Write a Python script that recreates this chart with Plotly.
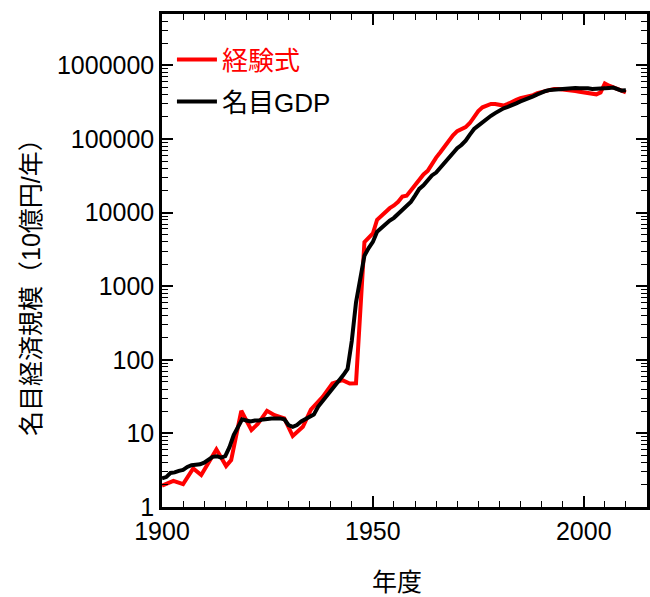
import plotly.graph_objects as go

# 経験式 (red) - year, value (10億円/年)
emp_years = [1900, 1902.7, 1905.0, 1907.4, 1909.3, 1911.3, 1912.9, 1915.2, 1916.4, 1918.8,
             1921.2, 1922.7, 1924.9, 1926.7, 1929.0, 1931.0, 1933.4, 1935.3, 1938.1, 1940.4,
             1942.8, 1944.5, 1946, 1948, 1949, 1950, 1951, 1952, 1953, 1954,
             1955, 1956, 1957, 1958, 1959, 1960, 1961, 1962, 1963, 1964,
             1965, 1966, 1967, 1968, 1969, 1970, 1971, 1972, 1973, 1974,
             1975, 1976, 1977, 1978, 1979, 1980, 1981, 1982, 1983, 1984,
             1985, 1986, 1987, 1988, 1989, 1990, 1991, 1992, 1993, 1994,
             1995, 1996, 1997, 1998, 1999, 2000, 2001, 2002, 2003, 2004,
             2005, 2006, 2007, 2008, 2009, 2010]
emp_values = [1.95, 2.27, 2.05, 3.35, 2.72, 4.4, 6.07, 3.6, 4.34, 20.3,
              11.1, 13.4, 20.3, 17.7, 16, 9.2, 12.3, 21, 31.4, 47.7,
              52.9, 47.7, 48, 3980, 4600, 5200, 8000, 9000, 10500, 11500,
              12500, 14000, 16500, 17000, 20000, 24000, 29000, 33000, 37000, 47000,
              56000, 66000, 80000, 95000, 112000, 128000, 137000, 145000, 165000, 205000,
              240000, 270000, 285000, 300000, 300000, 295000, 285000, 300000, 325000, 340000,
              360000, 370000, 375000, 395000, 420000, 435000, 455000, 470000, 480000, 480000,
              475000, 470000, 465000, 450000, 440000, 432000, 425000, 418000, 405000, 430000,
              570000, 530000, 505000, 470000, 450000, 430000]

# 名目GDP (black)
gdp_years = list(range(1900, 2011))
gdp_values = [2.45, 2.55, 2.9, 2.95, 3.1, 3.2, 3.5, 3.7, 3.75, 3.8,
              4.0, 4.4, 4.8, 4.9, 4.7, 4.9, 6.5, 9.5, 12.5, 15.5,
              15.0, 14.5, 15.0, 15.0, 15.5, 16, 16, 16, 16, 15.5,
              13, 12.3, 13, 14.5, 15.5, 16.5, 18, 23, 27, 32,
              38, 45, 52, 62, 75, 180, 600, 1300, 2600, 3300,
              4000, 5500, 6200, 7000, 7800, 8500, 9600, 11000, 12000, 14000,
              17000, 21000, 23500, 28000, 32000, 35000, 41000, 48000, 57000, 66000,
              75000, 83000, 95000, 115000, 137000, 152000, 170000, 188000, 207000, 225000,
              244000, 262000, 274000, 285000, 305000, 325000, 340000, 355000, 380000, 405000,
              430000, 450000, 465000, 470000, 475000, 485000, 495000, 505000, 495000, 490000,
              495000, 490000, 480000, 480000, 485000, 490000, 495000, 500000, 480000, 455000,
              460000]

series_names = ["経験式", "名目GDP"]
y_tickvals = [1, 10, 100, 1000, 10000, 100000, 1000000]
y_ticktext = ["1", "10", "100", "1000", "10000", "100000", "1000000"]
x_tickvals = [1900, 1950, 2000]

FONT = "Liberation Sans, Arial, Noto Sans CJK JP, sans-serif"

fig = go.Figure()
fig.add_trace(go.Scatter(
    x=emp_years, y=emp_values, mode="lines",
    name="<span style='color:#ff0000'>" + series_names[0] + "</span>",
    line=dict(color="#ff0000", width=4), legendgroup="a"))
fig.add_trace(go.Scatter(
    x=gdp_years, y=gdp_values, mode="lines",
    name=series_names[1],
    line=dict(color="#000000", width=4), legendgroup="b"))

fig.update_layout(
    width=650, height=597,
    margin=dict(l=162, r=0, t=14, b=90),
    paper_bgcolor="white", plot_bgcolor="white",
    font=dict(family=FONT, size=25, color="#000000"),
    showlegend=True,
    legend=dict(x=0.0205, y=0.955, xanchor="left", yanchor="top",
                bgcolor="rgba(0,0,0,0)", font=dict(size=26),
                itemwidth=40, tracegroupgap=5, traceorder="grouped"),
    xaxis=dict(range=[1900, 2015], showgrid=False, zeroline=False,
               showline=True, linecolor="black", linewidth=2.5, mirror="ticks",
               ticks="inside", ticklen=11, tickwidth=1.5, tickcolor="black",
               tickmode="array", tickvals=x_tickvals,
               minor=dict(ticks="inside", ticklen=6, tickwidth=1.2, tickcolor="black",
                          dtick=5, tick0=1900, showgrid=False)),
    yaxis=dict(type="log", range=[0, 6.699], showgrid=False, zeroline=False,
               showline=True, linecolor="black", linewidth=2.5, mirror="ticks",
               ticks="inside", ticklen=11, tickwidth=1.5, tickcolor="black",
               tickmode="array", tickvals=y_tickvals, ticktext=y_ticktext,
               minor=dict(ticks="inside", ticklen=6, tickwidth=1.2, tickcolor="black",
                          dtick="D1", showgrid=False)),
    annotations=[
        dict(text="名目経済規模（10億円/年）", xref="paper", yref="paper",
             x=-0.2705, y=0.458, textangle=-90, showarrow=False,
             xanchor="center", yanchor="middle", font=dict(size=25)),
        dict(text="年度", xref="paper", yref="paper", x=0.4836, y=-0.152,
             showarrow=False, xanchor="center", yanchor="middle", font=dict(size=25)),
    ],
)

fig.write_html(
    "out.html",
    config={"displayModeBar": False},
    post_script="document.body.style.margin='0';document.body.style.overflow='hidden';",
)
